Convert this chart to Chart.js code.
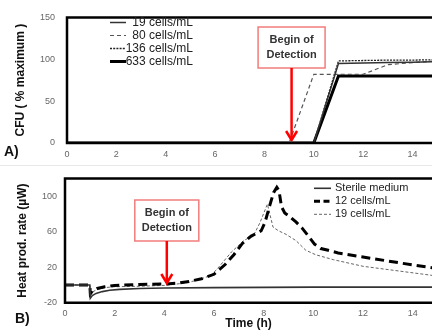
<!DOCTYPE html>
<html lang="en">
<head>
  <meta charset="UTF-8" />
  <title>CFU and heat production over time</title>
  <script src="https://cdn.jsdelivr.net/npm/chart.js"></script>
  <style>
    body { margin: 0; background: #fff; }
    .panel { position: absolute; left: 0; width: 432px; height: 166px; }
    #panelA { top: 0; }
    #panelB { top: 165px; }
    .divider { position: absolute; left: 0; top: 165px; width: 432px; height: 1px; background: #e8e8e8; }
  </style>
</head>
<body>
  <div class="divider"></div>
  <div class="panel" id="panelA"><canvas id="cfuChart"></canvas></div>
  <div class="panel" id="panelB"><canvas id="heatChart"></canvas></div>

  <script>
    // Panel A: CFU (% of maximum) per hour
    const hoursA = [0, 1, 2, 3, 4, 5, 6, 7, 8, 9, 10, 11, 12, 13, 14, 15];
    const cfu19  = [0, 0, 0, 0, 0, 0, 0, 0, 0, 0, 0, 95, 95.5, 96, 96.5, 97];
    const cfu80  = [0, 0, 0, 0, 0, 0, 0, 0, 0, 0, 82, 82, 82, 93.5, 96, 98];
    const cfu136 = [0, 0, 0, 0, 0, 0, 0, 0, 0, 0, 0, 98, 98.5, 99, 99, 99.5];
    const cfu633 = [0, 0, 0, 0, 0, 0, 0, 0, 0, 0, 0, 80, 80, 80, 80, 80];
    const cfuTicks = [0, 50, 100, 150];
    const hourTicks = [0, 2, 4, 6, 8, 10, 12, 14];

    // Panel B: heat production rate (µW)
    const timeSterile = [0, 1, 1.02, 1.1, 1.25, 1.5, 1.8, 2.2, 3, 4, 6, 10, 15];
    const heatSterile = [0, 0, -15, -12, -9.5, -7.5, -6, -5, -4, -3.5, -3, -2.5, -2.5];
    const time12 = [0, 1, 1.02, 1.1, 1.3, 1.6, 2, 3, 4, 4.5, 5, 5.5, 6, 6.45, 6.8, 7.15, 7.5, 7.9, 8.05, 8.25,
                    8.4, 8.53, 8.62, 8.72, 8.85, 9.05, 9.3, 9.55, 9.8, 10.05, 10.3, 10.6, 11, 12, 13, 14, 15];
    const heat12 = [0, 0, -10, -7, -4, -2, -0.5, 0.5, 1, 2, 4, 7, 12, 23, 34, 47, 55, 61, 70, 90,
                    104, 110, 106, 88, 81, 77, 71, 64, 55, 46, 41, 39, 36, 31.5, 27, 22.5, 18.5];
    const time19 = [0, 1, 1.02, 1.1, 1.3, 1.6, 2, 3, 4, 4.5, 5, 5.5, 5.85, 6.1, 6.4, 6.7, 7.2, 7.6, 7.85, 8.15,
                    8.38, 8.6, 8.9, 9.3, 9.7, 10.1, 10.8, 12, 13.5, 15];
    const heat19 = [0, 0, -12, -8, -5, -3, -2, -1.5, -0.5, 1, 3, 7, 10.5, 17, 27, 37, 50, 56, 70, 91,
                    65, 61, 57, 50, 39, 34, 28.5, 21, 15.5, 10];
    const heatTicks = [-20, 20, 60, 100];

    const pts = (xs, ys) => xs.map((x, i) => ({ x, y: ys[i] }));
    const FONT = "'Liberation Sans', Arial, sans-serif";
    Chart.defaults.font.family = FONT;

    // black frame: left, top and bottom edges of the plot area
    const frame = {
      id: 'frame',
      afterDatasetsDraw(chart) {
        const { ctx, chartArea: a } = chart;
        ctx.save();
        ctx.strokeStyle = '#000';
        ctx.lineWidth = 2.5;
        ctx.beginPath();
        ctx.moveTo(a.right + 2, a.top);
        ctx.lineTo(a.left, a.top);
        ctx.lineTo(a.left, a.bottom);
        ctx.lineTo(a.right + 2, a.bottom);
        ctx.stroke();
        ctx.restore();
      }
    };

    // legend drawn inside the plot area
    const insideLegend = {
      id: 'insideLegend',
      afterDatasetsDraw(chart, args, o) {
        const ctx = chart.ctx;
        ctx.save();
        ctx.font = o.size + 'px ' + FONT;
        ctx.fillStyle = '#222';
        ctx.textBaseline = 'middle';
        ctx.textAlign = o.align;
        chart.data.datasets.forEach((ds, i) => {
          const y = o.y + i * o.gap;
          ctx.beginPath();
          ctx.setLineDash(ds.legendDash || ds.borderDash || []);
          ctx.lineWidth = ds.borderWidth;
          ctx.strokeStyle = ds.borderColor;
          ctx.moveTo(o.x1, y);
          ctx.lineTo(o.x2, y);
          ctx.stroke();
          ctx.setLineDash([]);
          ctx.fillText(ds.label, o.textX, y);
        });
        ctx.restore();
      }
    };

    // "Begin of Detection" box with a red arrow
    const detection = {
      id: 'detection',
      afterDraw(chart, args, o) {
        const ctx = chart.ctx;
        const x = chart.scales.x.getPixelForValue(o.at);
        const left = x - o.w / 2;
        const mid = (o.top + o.bottom) / 2;
        ctx.save();
        ctx.fillStyle = '#fff';
        ctx.fillRect(left, o.top, o.w, o.bottom - o.top);
        ctx.strokeStyle = '#f27c7c';
        ctx.lineWidth = 1.5;
        ctx.strokeRect(left, o.top, o.w, o.bottom - o.top);
        ctx.fillStyle = '#333';
        ctx.font = 'bold 11px ' + FONT;
        ctx.textAlign = 'center';
        ctx.textBaseline = 'middle';
        ctx.fillText('Begin of', x, mid - 7.8);
        ctx.fillText('Detection', x, mid + 7.8);
        ctx.strokeStyle = '#ff0000';
        ctx.lineWidth = 2.5;
        ctx.beginPath();
        ctx.moveTo(x, o.bottom);
        ctx.lineTo(x, o.tip - 1);
        ctx.stroke();
        ctx.beginPath();
        ctx.moveTo(x - 5.5, o.tip - 9);
        ctx.lineTo(x, o.tip);
        ctx.lineTo(x + 5.5, o.tip - 9);
        ctx.stroke();
        ctx.restore();
      }
    };

    const panelTag = {
      id: 'panelTag',
      afterDraw(chart, args, o) {
        const ctx = chart.ctx;
        ctx.save();
        ctx.font = 'bold 14px ' + FONT;
        ctx.fillStyle = '#111';
        ctx.textBaseline = 'middle';
        ctx.fillText(o.text, o.x, o.y);
        ctx.restore();
      }
    };

    const tickFont = { size: 9 };

    new Chart(document.getElementById('cfuChart'), {
      type: 'line',
      data: {
        datasets: [
          { label: '19 cells/mL', data: pts(hoursA, cfu19), borderColor: '#333', borderWidth: 1.5 },
          { label: '80 cells/mL', data: pts(hoursA, cfu80), borderColor: '#555', borderWidth: 1.2, borderDash: [4, 3] },
          { label: '136 cells/mL', data: pts(hoursA, cfu136), borderColor: '#222', borderWidth: 1.3, borderDash: [2, 1.2] },
          { label: '633 cells/mL', data: pts(hoursA, cfu633), borderColor: '#000', borderWidth: 3 }
        ]
      },
      options: {
        responsive: true,
        maintainAspectRatio: false,
        animation: false,
        elements: { point: { radius: 0 }, line: { tension: 0 } },
        layout: { padding: { top: 11, right: 0, bottom: 0, left: 0 } },
        plugins: {
          legend: { display: false },
          tooltip: { enabled: false },
          insideLegend: { x1: 110, x2: 126, textX: 193, align: 'right', y: 22.5, gap: 13, size: 12 },
          detection: { at: 9.1, w: 67, top: 27, bottom: 68, tip: 140 },
          panelTag: { text: 'A)', x: 4, y: 152 }
        },
        scales: {
          x: {
            type: 'linear', min: 0, max: 14.79,
            grid: { display: false, drawTicks: false },
            border: { display: false },
            afterFit: s => { s.height = 23; },
            afterBuildTicks: s => { s.ticks = hourTicks.map(v => ({ value: v })); },
            ticks: { padding: 6, color: '#666', font: tickFont, maxRotation: 0, autoSkip: false }
          },
          y: {
            min: 0, max: 150,
            grid: { display: false, drawTicks: false },
            border: { display: false },
            afterFit: s => { s.width = 67; },
            afterBuildTicks: s => { s.ticks = cfuTicks.map(v => ({ value: v })); },
            ticks: { padding: 12, color: '#666', font: tickFont },
            title: { display: true, text: 'CFU ( % maximum )', color: '#111', font: { size: 12, weight: 'bold' }, padding: { top: 13, bottom: 0 } }
          }
        }
      },
      plugins: [frame, insideLegend, detection, panelTag]
    });

    new Chart(document.getElementById('heatChart'), {
      type: 'line',
      data: {
        datasets: [
          { label: 'Sterile medium', data: pts(timeSterile, heatSterile), borderColor: '#333', borderWidth: 1.6 },
          { label: '12 cells/mL', data: pts(time12, heat12), borderColor: '#000', borderWidth: 3, borderDash: [9, 5], legendDash: [6, 3.5] },
          { label: '19 cells/mL', data: pts(time19, heat19), borderColor: '#666', borderWidth: 1, borderDash: [3, 2] }
        ]
      },
      options: {
        responsive: true,
        maintainAspectRatio: false,
        animation: false,
        elements: { point: { radius: 0 }, line: { tension: 0 } },
        layout: { padding: { top: 9, right: 0, bottom: 0, left: 0 } },
        plugins: {
          legend: { display: false },
          tooltip: { enabled: false },
          insideLegend: { x1: 314, x2: 331, textX: 335, align: 'left', y: 23.3, gap: 13, size: 11 },
          detection: { at: 4.1, w: 64, top: 35, bottom: 76, tip: 118 },
          panelTag: { text: 'B)', x: 15, y: 154 }
        },
        scales: {
          x: {
            type: 'linear', min: 0, max: 14.78,
            grid: { display: false, drawTicks: false },
            border: { display: false },
            afterFit: s => { s.height = 28.3; },
            afterBuildTicks: s => { s.ticks = hourTicks.map(v => ({ value: v })); },
            ticks: { padding: 5, color: '#666', font: tickFont, maxRotation: 0, autoSkip: false },
            title: { display: true, text: 'Time (h)', color: '#111', font: { size: 12, weight: 'bold' }, padding: { top: 0, bottom: 0 } }
          },
          y: {
            min: -20, max: 120,
            grid: { display: false, drawTicks: false },
            border: { display: false },
            afterFit: s => { s.width = 65; },
            afterBuildTicks: s => { s.ticks = heatTicks.map(v => ({ value: v })); },
            ticks: { padding: 8, color: '#666', font: tickFont },
            title: { display: true, text: 'Heat prod. rate (µW)', color: '#111', font: { size: 12, weight: 'bold' }, padding: { top: 15, bottom: 0 } }
          }
        }
      },
      plugins: [frame, insideLegend, detection, panelTag]
    });
  </script>
</body>
</html>
